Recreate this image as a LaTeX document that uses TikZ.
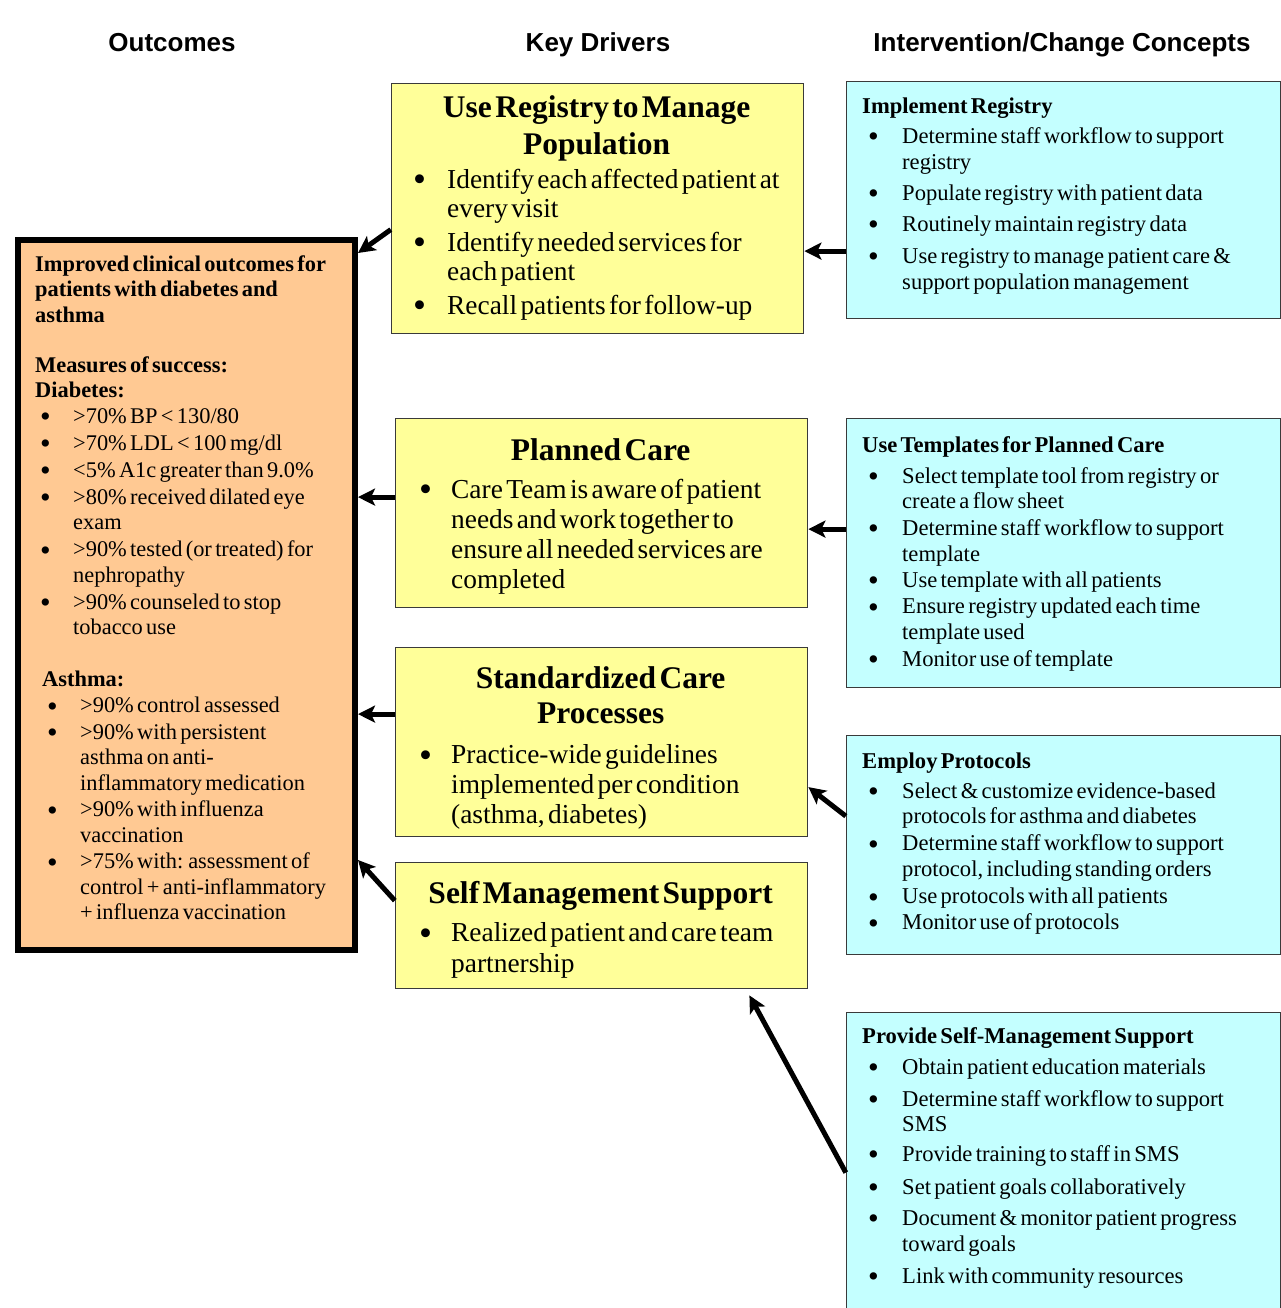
\documentclass[tikz,border=0pt]{standalone}
\usepackage{fontspec}
\setmainfont{Liberation Serif}
\newfontfamily\hdrfont{Liberation Sans}
\usetikzlibrary{arrows.meta,calc}
\definecolor{ylw}{HTML}{FFFF99}
\definecolor{cyn}{HTML}{C4FFFF}
\definecolor{org}{HTML}{FFC993}
\definecolor{edgec}{HTML}{3A3A3A}
\newcommand\bdot{\smash{\raisebox{-0.14em}{\scalebox{1.35}{\textbullet}}}}
\newcommand\itm[4]{\par\vspace{#3}\noindent\hangindent=#2\hangafter=1\makebox[#2][l]{\hspace*{#1}\bdot}#4}
\newcommand\fsz[2]{\fontsize{#1}{#2}\selectfont}
\newcommand\nl{\newline}
\tikzset{
  hdr/.style={anchor=base, inner sep=0pt, font=\hdrfont\bfseries\fontsize{26pt}{30pt}\selectfont},
  ybox/.style={draw=edgec, line width=1.6pt, fill=ylw, anchor=north west, inner sep=0pt},
  cbox/.style={draw=edgec, line width=1.6pt, fill=cyn, anchor=north west, inner sep=0pt},
  obox/.style={draw=black, line width=6pt, fill=org, anchor=north west, inner sep=0pt},
  txt/.style={anchor=north west, inner sep=0pt},
  arr/.style={draw=black, line width=5pt, -{Stealth[length=17pt,width=17pt,inset=4pt]}}
}
\begin{document}
\begin{tikzpicture}[x=1pt,y=-1pt]
\useasboundingbox (0,0) rectangle (1281,1308);
% headers
\node[hdr] (h1) at (172,52) {Outcomes};
\node[hdr] (h2) at (598,52) {Key Drivers};
\node[hdr] (h3) at (1062,52) {Intervention/Change Concepts};

% outcome box
\node[obox, minimum width=337pt, minimum height=710pt] (o) at (15,237) {};
\node[txt, text width=318pt] (ot) at (35,255.5) {\raggedright\parindent=0pt
\fsz{22.4pt}{25.5pt}%
\noindent\textbf{Improved clinical outcomes for\nl patients with diabetes and\nl asthma}\par
\vspace{24.5pt}\noindent\textbf{Measures of success:\nl Diabetes:}%
\itm{5pt}{38pt}{0pt}{>70\% BP < 130/80}%
\itm{5pt}{38pt}{1.5pt}{>70\% LDL < 100 mg/dl}%
\itm{5pt}{38pt}{1.5pt}{<5\% A1c greater than 9.0\%}%
\itm{5pt}{38pt}{1.5pt}{>80\% received dilated eye\nl exam}%
\itm{5pt}{38pt}{1.5pt}{>90\% tested (or treated) for\nl nephropathy}%
\itm{5pt}{38pt}{1.5pt}{>90\% counseled to stop\nl tobacco use}\par
\vspace{26pt}\noindent\hspace*{7pt}\textbf{Asthma:}%
\itm{12pt}{45pt}{1pt}{>90\% control assessed}%
\itm{12pt}{45pt}{1pt}{>90\% with persistent\nl asthma on anti-\nl inflammatory medication}%
\itm{12pt}{45pt}{1pt}{>90\% with influenza\nl vaccination}%
\itm{12pt}{45pt}{1pt}{>75\% with: assessment of\nl control + anti-inflammatory\nl + influenza vaccination}\par};

% key driver boxes
\node[ybox, minimum width=412pt, minimum height=250pt] (y1) at (390.8,82.8) {};
\node[txt, text width=393pt] (y1t) at (400,95) {\raggedright\parindent=0pt
{\centering\fsz{31.5pt}{37pt}\bfseries Use Registry to Manage\\Population\par}%
\fsz{27.4pt}{29.5pt}%
\itm{13pt}{47pt}{4.5pt}{Identify each affected patient at\nl every visit}%
\itm{13pt}{47pt}{4pt}{Identify needed services for\nl each patient}%
\itm{13pt}{47pt}{4pt}{Recall patients for follow-up}\par};

\node[ybox, minimum width=412pt, minimum height=189pt] (y2) at (394.8,417.8) {};
\node[txt, text width=393pt] (y2t) at (404,438) {\raggedright\parindent=0pt
{\centering\fsz{31.5pt}{37pt}\bfseries Planned Care\par}%
\fsz{27.4pt}{30pt}%
\itm{15pt}{47pt}{8pt}{Care Team is aware of patient\nl needs and work together to\nl ensure all needed services are\nl completed}\par};

\node[ybox, minimum width=412pt, minimum height=189pt] (y3) at (394.8,646.8) {};
\node[txt, text width=393pt] (y3t) at (404,666.5) {\raggedright\parindent=0pt
{\centering\fsz{31.5pt}{35pt}\bfseries Standardized Care\\Processes\par}%
\fsz{27.4pt}{30pt}%
\itm{15pt}{47pt}{10pt}{Practice-wide guidelines\nl implemented per condition\nl (asthma, diabetes)}\par};

\node[ybox, minimum width=412pt, minimum height=126pt] (y4) at (394.8,861.8) {};
\node[txt, text width=393pt] (y4t) at (404,881.5) {\raggedright\parindent=0pt
{\centering\fsz{31.5pt}{37pt}\bfseries Self Management Support\par}%
\fsz{27.4pt}{30.5pt}%
\itm{15pt}{47pt}{7.5pt}{Realized patient and care team\nl partnership}\par};

% change concept boxes
\node[cbox, minimum width=434pt, minimum height=237pt] (c1) at (845.8,80.8) {};
\node[txt, text width=415pt] (c1t) at (862,97.5) {\raggedright\parindent=0pt
\fsz{22.6pt}{26pt}\noindent\textbf{Implement Registry}%
\itm{6pt}{40pt}{4pt}{Determine staff workflow to support\nl registry}%
\itm{6pt}{40pt}{5pt}{Populate registry with patient data}%
\itm{6pt}{40pt}{5pt}{Routinely maintain registry data}%
\itm{6pt}{40pt}{6pt}{Use registry to manage patient care \&\nl support population management}\par};

\node[cbox, minimum width=434pt, minimum height=269pt] (c2) at (845.8,417.8) {};
\node[txt, text width=415pt] (c2t) at (862,436) {\raggedright\parindent=0pt
\fsz{22.6pt}{25.8pt}\noindent\textbf{Use Templates for Planned Care}%
\itm{6pt}{40pt}{5.2pt}{Select template tool from registry or\nl create a flow sheet}%
\itm{6pt}{40pt}{0.5pt}{Determine staff workflow to support\nl template}%
\itm{6pt}{40pt}{0.8pt}{Use template with all patients}%
\itm{6pt}{40pt}{0.5pt}{Ensure registry updated each time\nl template used}%
\itm{6pt}{40pt}{0.5pt}{Monitor use of template}\par};

\node[cbox, minimum width=434pt, minimum height=219pt] (c3) at (845.8,734.8) {};
\node[txt, text width=415pt] (c3t) at (862,752.5) {\raggedright\parindent=0pt
\fsz{22.6pt}{25.5pt}\noindent\textbf{Employ Protocols}%
\itm{6pt}{40pt}{4.5pt}{Select \& customize evidence-based\nl protocols for asthma and diabetes}%
\itm{6pt}{40pt}{1.5pt}{Determine staff workflow to support\nl protocol, including standing orders}%
\itm{6pt}{40pt}{2pt}{Use protocols with all patients}%
\itm{6pt}{40pt}{0.5pt}{Monitor use of protocols}\par};

\node[cbox, minimum width=434pt, minimum height=310pt] (c4) at (845.8,1011.8) {};
\node[txt, text width=415pt] (c4t) at (862,1027) {\raggedright\parindent=0pt
\fsz{22.6pt}{25.5pt}\noindent\textbf{Provide Self-Management Support}%
\itm{6pt}{40pt}{5.5pt}{Obtain patient education materials}%
\itm{6pt}{40pt}{6.5pt}{Determine staff workflow to support\nl SMS}%
\itm{6pt}{40pt}{4.5pt}{Provide training to staff in SMS}%
\itm{6pt}{40pt}{7.5pt}{Set patient goals collaboratively}%
\itm{6pt}{40pt}{5.5pt}{Document \& monitor patient progress\nl toward goals}%
\itm{6pt}{40pt}{6.5pt}{Link with community resources}\par};

% connectors: key drivers -> outcome
\coordinate (a1s) at ([yshift=-21pt]y1.west);
\coordinate (a1e) at ([yshift=-16pt]o.north east);
\draw[arr] (a1s) -- (a1e);
\coordinate (a2s) at ([yshift=16pt]y2.west);
\draw[arr] (a2s) -- (a2s -| o.east);
\coordinate (a3s) at ([yshift=28pt]y3.west);
\draw[arr] (a3s) -- (a3s -| o.east);
\coordinate (a4s) at ([yshift=25pt]y4.west);
\coordinate (a4e) at ([yshift=93pt]o.south east);
\draw[arr] (a4s) -- (a4e);
% concepts -> key drivers
\coordinate (b1s) at ([yshift=-51pt]c1.west);
\draw[arr] (b1s) -- (b1s -| y1.east);
\coordinate (b2s) at ([yshift=24pt]c2.west);
\draw[arr] (b2s) -- (b2s -| y2.east);
\coordinate (b3s) at ([yshift=29pt]c3.west);
\coordinate (b3e) at ([yshift=-45pt]y3.east);
\draw[arr] (b3s) -- (b3e);
\coordinate (b4s) at ([yshift=-5pt]c4.west);
\coordinate (b4e) at ([xshift=-59pt,yshift=-6pt]y4.south east);
\draw[arr] (b4s) -- (b4e);
\end{tikzpicture}
\end{document}
